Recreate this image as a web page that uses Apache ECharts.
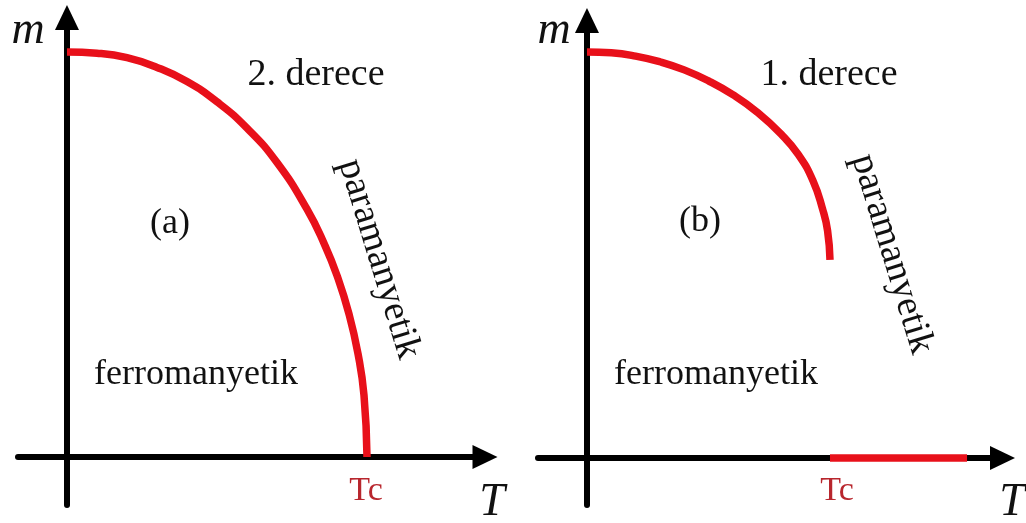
<!DOCTYPE html>
<html>
<head>
<meta charset="utf-8">
<style>
  html, body { margin: 0; padding: 0; background: #ffffff; }
  #chart { width: 1026px; height: 523px; }
</style>
<script src="https://cdn.jsdelivr.net/npm/echarts@6/dist/echarts.min.js"></script>
</head>
<body>
<div id="chart"></div>
<script>
// Panel (a): second-order transition, magnetisation m(T) falls continuously to zero at Tc
const tempA = [0, 0.1, 0.2, 0.3, 0.4, 0.5, 0.6, 0.7, 0.8, 0.86, 0.9, 0.94, 0.97, 0.99, 1.0];
const magA  = [1.0, 0.997, 0.986, 0.962, 0.927, 0.877, 0.812, 0.727, 0.612, 0.522, 0.448, 0.353, 0.255, 0.152, 0];

// Panel (b): first-order transition, m(T) jumps from a finite value to zero at Tc
const tempB = [0, 0.1, 0.2, 0.3, 0.4, 0.5, 0.6, 0.7, 0.8, 0.87, 0.93, 0.97, 0.99, 1.0];
const magB  = [1.0, 0.998, 0.990, 0.976, 0.956, 0.929, 0.895, 0.852, 0.797, 0.747, 0.683, 0.612, 0.56, 0.488];

// Panel (b): paramagnetic branch m = 0 above Tc
const tempParaB = [1.0, 1.564];
const magParaB  = [0, 0];

// Text labels
const axisLabelM = 'm';
const axisLabelT = 'T';
const tcLabel = 'Tc';
const panelLabels = ['(a)', '(b)'];
const orderLabels = ['2. derece', '1. derece'];
const ferroLabel = 'ferromanyetik';
const paraLabel = 'paramanyetik';

const pairs = (xs, ys) => xs.map((x, i) => [x, ys[i]]);

const RED = '#e8101a';
const TC_RED = '#b8262d';
const INK = '#111111';
const SERIF = '"Liberation Serif", "DejaVu Serif", serif';

function axisPair(gridIndex, xMin, xMax, yMin, yMax) {
  const line = {
    show: true,
    onZero: true,
    symbol: ['none', 'triangle'],
    symbolSize: [24, 25],
    lineStyle: { color: '#000000', width: 6 }
  };
  return {
    x: {
      type: 'value', gridIndex, min: xMin, max: xMax,
      axisLine: line, axisTick: { show: false }, axisLabel: { show: false },
      splitLine: { show: false }
    },
    y: {
      type: 'value', gridIndex, min: yMin, max: yMax,
      axisLine: line, axisTick: { show: false }, axisLabel: { show: false },
      splitLine: { show: false }
    }
  };
}

const axA = axisPair(0, -0.1633, 1.3933, -0.1185, 1.0852);
const axB = axisPair(1, -0.2016, 1.7099, -0.1158, 1.0776);

function txt(text, x, y, size, opts) {
  opts = opts || {};
  return {
    type: 'text',
    x: x, y: y,
    rotation: opts.rotation || 0,
    z: 10,
    style: {
      text: text,
      fontFamily: SERIF,
      fontSize: size,
      fontStyle: opts.italic ? 'italic' : 'normal',
      fill: opts.color || INK,
      align: opts.align || 'center',
      verticalAlign: 'middle'
    }
  };
}

const curveStyle = { color: RED, width: 7.5 };

const chart = echarts.init(document.getElementById('chart'), null, { renderer: 'canvas' });

chart.setOption({
  backgroundColor: '#ffffff',
  animation: false,
  grid: [
    { left: 18, right: 541, top: 17.5, bottom: 18 },
    { left: 538, right: 23.5, top: 20.5, bottom: 18 }
  ],
  xAxis: [axA.x, axB.x],
  yAxis: [axA.y, axB.y],
  series: [
    {
      type: 'line', xAxisIndex: 0, yAxisIndex: 0,
      data: pairs(tempA, magA), smooth: 0.5, showSymbol: false,
      lineStyle: curveStyle
    },
    {
      type: 'line', xAxisIndex: 1, yAxisIndex: 1,
      data: pairs(tempB, magB), smooth: 0.5, showSymbol: false,
      lineStyle: curveStyle
    },
    {
      type: 'line', xAxisIndex: 1, yAxisIndex: 1,
      data: pairs(tempParaB, magParaB), showSymbol: false,
      lineStyle: curveStyle
    }
  ],
  graphic: [
    // panel (a)
    txt(axisLabelM, 28, 31, 46, { italic: true }),
    txt(axisLabelT, 492, 503, 46, { italic: true }),
    txt(tcLabel, 366, 491, 34, { color: TC_RED }),
    txt(orderLabels[0], 316, 75, 38),
    txt(panelLabels[0], 170, 224, 36),
    txt(ferroLabel, 196, 375, 36),
    txt(paraLabel, 379, 259, 38, { rotation: -73 * Math.PI / 180 }),
    // panel (b)
    txt(axisLabelM, 554, 31, 46, { italic: true }),
    txt(axisLabelT, 1012, 503, 46, { italic: true }),
    txt(tcLabel, 837, 491, 34, { color: TC_RED }),
    txt(orderLabels[1], 829, 75, 38),
    txt(panelLabels[1], 700, 222, 36),
    txt(ferroLabel, 716, 375, 36),
    txt(paraLabel, 892, 254, 38, { rotation: -73 * Math.PI / 180 })
  ]
});
</script>
</body>
</html>
